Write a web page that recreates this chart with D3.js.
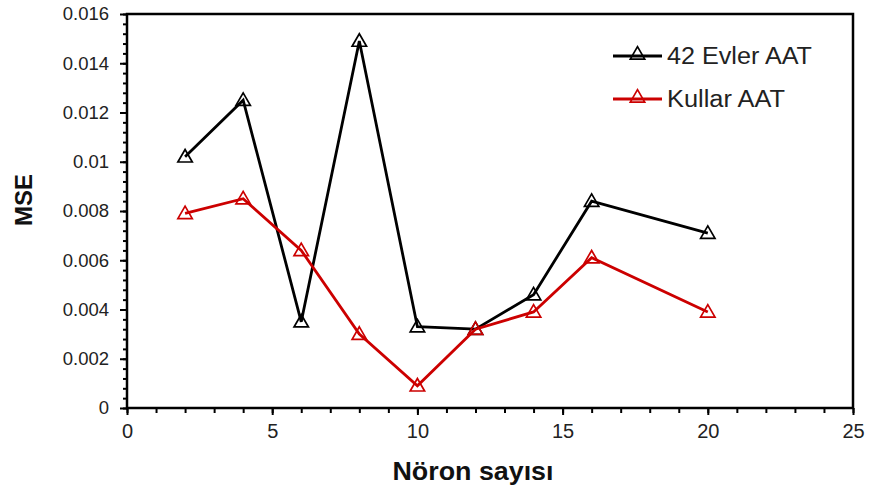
<!DOCTYPE html>
<html>
<head>
<meta charset="utf-8">
<script src="https://cdn.jsdelivr.net/npm/d3@7"></script>
<style>
  html, body { margin: 0; padding: 0; background: #ffffff; }
  svg { display: block; }
</style>
</head>
<body>
<svg id="chart" width="872" height="492"></svg>
<script>
const neurons = [2, 4, 6, 8, 10, 12, 14, 16, 20];
const evlerMse = [0.0102, 0.0125, 0.0035, 0.0149, 0.0033, 0.0032, 0.0046, 0.0084, 0.0071];
const kullarMse = [0.0079, 0.0085, 0.0064, 0.0030, 0.0009, 0.0032, 0.0039, 0.0061, 0.0039];
const seriesNames = ['42 Evler AAT', 'Kullar AAT'];
const seriesColors = ['#000000', '#cc0000'];
const xTicks = [0, 5, 10, 15, 20, 25];
const yTicks = [0, 0.002, 0.004, 0.006, 0.008, 0.01, 0.012, 0.014, 0.016];

const FONT = '"Liberation Sans", Arial, sans-serif';
const W = 872;
const H = 492;
const plot = { left: 127, right: 853, top: 14, bottom: 408 };

const root = d3.select('#chart')
  .attr('viewBox', `0 0 ${W} ${H}`);

const x = d3.scaleLinear().domain([0, 25]).range([plot.left, plot.right]);
const y = d3.scaleLinear().domain([0, 0.016]).range([plot.bottom, plot.top]);

// minor ticks first, so the major ones sit on top
const xMinor = d3.range(0, 26, 1);
const yMinor = d3.range(0, 0.01601, 0.0004);

root.append('g')
  .attr('transform', `translate(0, ${plot.bottom})`)
  .call(d3.axisBottom(x).tickValues(xMinor).tickSize(5).tickFormat(''))
  .call((g) => g.select('.domain').remove())
  .call((g) => g.selectAll('line').attr('stroke', '#000').attr('stroke-width', 2));

root.append('g')
  .attr('transform', `translate(${plot.left}, 0)`)
  .call(d3.axisLeft(y).tickValues(yMinor).tickSize(4).tickFormat(''))
  .call((g) => g.select('.domain').remove())
  .call((g) => g.selectAll('line').attr('stroke', '#000').attr('stroke-width', 2));

root.append('g')
  .attr('transform', `translate(0, ${plot.bottom})`)
  .call(d3.axisBottom(x).tickValues(xTicks).tickSize(7).tickPadding(9).tickFormat(d3.format('d')))
  .call((g) => g.select('.domain').remove())
  .call((g) => g.selectAll('line').attr('stroke', '#000').attr('stroke-width', 2))
  .call((g) => g.selectAll('text')
    .attr('fill', '#222')
    .attr('font-size', 20)
    .attr('font-family', FONT));

root.append('g')
  .attr('transform', `translate(${plot.left}, 0)`)
  .call(d3.axisLeft(y).tickValues(yTicks).tickSize(7).tickPadding(11)
    .tickFormat((d) => (d === 0 ? '0' : String(+d.toFixed(3)))))
  .call((g) => g.select('.domain').remove())
  .call((g) => g.selectAll('line').attr('stroke', '#000').attr('stroke-width', 2))
  .call((g) => g.selectAll('text')
    .attr('fill', '#222')
    .attr('font-size', 18.5)
    .attr('font-family', FONT));

// frame
root.append('rect')
  .attr('x', plot.left)
  .attr('y', plot.top)
  .attr('width', plot.right - plot.left)
  .attr('height', plot.bottom - plot.top)
  .attr('fill', 'none')
  .attr('stroke', '#000')
  .attr('stroke-width', 2.5);

const triangle = d3.symbol().type(d3.symbolTriangle).size(90);

const line = d3.line()
  .x((d) => x(d[0]))
  .y((d) => y(d[1]));

[evlerMse, kullarMse].forEach((values, i) => {
  const pts = neurons.map((n, k) => [n, values[k]]);

  root.append('path')
    .datum(pts)
    .attr('d', line)
    .attr('fill', 'none')
    .attr('stroke', seriesColors[i])
    .attr('stroke-width', 2.8)
    .attr('stroke-linejoin', 'miter');

  root.append('g')
    .selectAll('path')
    .data(pts)
    .join('path')
    .attr('d', triangle)
    .attr('transform', (d) => `translate(${x(d[0])}, ${y(d[1]) + 1})`)
    .attr('fill', 'none')
    .attr('stroke', seriesColors[i])
    .attr('stroke-width', 1.7);
});

// legend
const legend = root.append('g');
seriesNames.forEach((name, i) => {
  const ly = 56 + i * 43;
  legend.append('line')
    .attr('x1', 613)
    .attr('x2', 662)
    .attr('y1', ly)
    .attr('y2', ly)
    .attr('stroke', seriesColors[i])
    .attr('stroke-width', 2.8);
  legend.append('path')
    .attr('d', triangle)
    .attr('transform', `translate(637.5, ${ly - 1})`)
    .attr('fill', 'none')
    .attr('stroke', seriesColors[i])
    .attr('stroke-width', 1.7);
  legend.append('text')
    .attr('x', 667)
    .attr('y', ly + 8)
    .attr('fill', '#222')
    .attr('font-size', 23)
    .attr('font-family', FONT)
    .attr('textLength', i === 0 ? 145 : 118)
    .attr('lengthAdjust', 'spacingAndGlyphs')
    .text(name);
});

root.append('text')
  .attr('x', 473)
  .attr('y', 480)
  .attr('text-anchor', 'middle')
  .attr('fill', '#111')
  .attr('font-size', 25)
  .attr('font-weight', 700)
  .attr('font-family', FONT)
  .attr('textLength', 161)
  .attr('lengthAdjust', 'spacingAndGlyphs')
  .text('Nöron sayısı');

root.append('text')
  .attr('transform', 'translate(32, 200) rotate(-90)')
  .attr('text-anchor', 'middle')
  .attr('fill', '#111')
  .attr('font-size', 24)
  .attr('font-weight', 700)
  .attr('font-family', FONT)
  .text('MSE');
</script>
</body>
</html>
